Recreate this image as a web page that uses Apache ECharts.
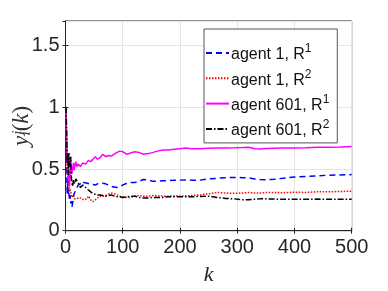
<!DOCTYPE html>
<html>
<head>
<meta charset="utf-8">
<script src="https://cdn.jsdelivr.net/npm/echarts@6/dist/echarts.min.js"></script>
<style>html,body{margin:0;padding:0;background:#fff}#c{width:388px;height:291px}</style>
</head>
<body>
<div id="c"></div>
<script>
var K = [1,2,3,4,5,6,7,8,9,10,11,12,13,14,15,16,18,20,22,24,26,28,30,32,35,38,40,44,48,52,56,60,65,70,75,80,85,90,95,100,107,114,121,128,136,145,153,160,170,180,190,200,210,220,235,250,265,280,295,310,320,330,340,350,365,380,400,420,440,460,480,500];
var agent1R1 = [1.0,0.50,0.30,0.42,0.28,0.30,0.25,0.29,0.22,0.24,0.19,0.21,0.24,0.27,0.30,0.31,0.33,0.35,0.37,0.38,0.38,0.40,0.40,0.39,0.39,0.385,0.38,0.375,0.375,0.37,0.38,0.385,0.385,0.38,0.37,0.36,0.355,0.35,0.36,0.37,0.385,0.39,0.39,0.40,0.415,0.41,0.40,0.402,0.405,0.405,0.41,0.41,0.412,0.41,0.41,0.42,0.425,0.43,0.432,0.43,0.428,0.42,0.415,0.412,0.418,0.425,0.435,0.44,0.445,0.45,0.452,0.455];
var agent1R2 = [1.0,0.62,0.45,0.50,0.36,0.40,0.30,0.34,0.35,0.30,0.27,0.29,0.30,0.28,0.26,0.27,0.27,0.26,0.25,0.27,0.265,0.26,0.255,0.25,0.245,0.26,0.28,0.25,0.235,0.25,0.265,0.28,0.28,0.285,0.295,0.305,0.30,0.29,0.28,0.275,0.27,0.27,0.28,0.285,0.28,0.28,0.285,0.282,0.28,0.28,0.282,0.28,0.283,0.285,0.29,0.30,0.31,0.305,0.303,0.306,0.31,0.305,0.305,0.31,0.31,0.308,0.312,0.31,0.315,0.315,0.318,0.32];
var agent601R1 = [1.0,0.72,0.55,0.62,0.40,0.50,0.36,0.44,0.60,0.50,0.46,0.47,0.52,0.55,0.49,0.50,0.56,0.52,0.54,0.55,0.52,0.53,0.55,0.56,0.54,0.55,0.57,0.56,0.58,0.60,0.58,0.59,0.62,0.60,0.61,0.605,0.62,0.635,0.645,0.64,0.62,0.63,0.64,0.635,0.62,0.625,0.635,0.645,0.655,0.655,0.66,0.665,0.67,0.665,0.665,0.668,0.67,0.671,0.672,0.674,0.677,0.664,0.663,0.666,0.668,0.670,0.671,0.673,0.676,0.677,0.679,0.682];
var agent601R2 = [1.0,0.80,0.55,0.62,0.45,0.63,0.55,0.52,0.60,0.45,0.39,0.36,0.38,0.41,0.40,0.38,0.42,0.41,0.39,0.37,0.35,0.36,0.37,0.36,0.35,0.34,0.33,0.315,0.30,0.295,0.29,0.29,0.285,0.28,0.285,0.29,0.28,0.275,0.275,0.27,0.275,0.28,0.28,0.27,0.265,0.265,0.27,0.27,0.27,0.275,0.275,0.275,0.275,0.275,0.278,0.28,0.27,0.262,0.258,0.25,0.25,0.255,0.258,0.258,0.256,0.255,0.255,0.255,0.256,0.255,0.255,0.255];
var xTicks = [0,100,200,300,400,500];
var yTicks = [0,0.5,1,1.5];

function pairs(ys){ return K.map(function(k,i){ return [k, ys[i]]; }); }

var chart = echarts.init(document.getElementById('c'), null, {renderer:'canvas'});
var axisColor = '#262626';
var sans = 'Liberation Sans, Arial, Helvetica, sans-serif';
function sup(base, s){ return '{a|' + base + '}{s|' + s + '}'; }
var legendNames = ['agent 1, R^1','agent 1, R^2','agent 601, R^1','agent 601, R^2'];

function mkSeries(name, ys, color, type){
  return {name:name, type:'line', data:pairs(ys), showSymbol:false, symbol:'none',
    lineStyle:{color:color, width:1.5, type:type}, itemStyle:{color:color}, animation:false, z:3};
}

chart.setOption({
  animation:false,
  grid:{left:65.5, right:36.3, top:21, bottom:60.3, containLabel:false, outerBoundsMode:'none',
    show:true, borderColor:axisColor, borderWidth:1, backgroundColor:'#fff'},
  xAxis:[{type:'value', min:0, max:500, interval:100,
    axisLine:{show:true, onZero:false, lineStyle:{color:axisColor}},
    axisTick:{show:true, inside:true, length:3, lineStyle:{color:axisColor}},
    axisLabel:{color:axisColor, fontSize:20, fontFamily:sans, margin:7},
    splitLine:{show:true, lineStyle:{color:'#e5e5e5', width:1}},
    name:'k', nameLocation:'middle', nameGap:34,
    nameTextStyle:{fontFamily:'Liberation Serif, DejaVu Serif, serif', fontStyle:'italic', fontSize:22, color:axisColor}
  },{type:'value', min:0, max:500, interval:100, position:'top',
    axisLine:{show:true, lineStyle:{color:axisColor}},
    axisTick:{show:true, inside:true, length:3, lineStyle:{color:axisColor}},
    axisLabel:{show:false}, splitLine:{show:false}}],
  yAxis:[{type:'value', min:0, max:1.7, interval:0.5,
    axisLine:{show:true, onZero:false, lineStyle:{color:axisColor}},
    axisTick:{show:true, inside:true, length:3, lineStyle:{color:axisColor}},
    axisLabel:{color:axisColor, fontSize:20, fontFamily:sans, margin:6, showMaxLabel:false,
      formatter:function(v){ return yTicks.indexOf(v) >= 0 ? String(v) : ''; }},
    splitLine:{show:true, lineStyle:{color:'#e5e5e5', width:1}},
    name:'{y|y}{s|j}{i|i}{p|(}{k|k}{p|)}', nameLocation:'middle', nameGap:32, nameRotate:90,
    nameMoveOverlap:false,
    nameTextStyle:{color:axisColor, rich:{
      y:{fontFamily:'Liberation Serif, serif', fontStyle:'italic', fontSize:23, color:'#333'},
      s:{fontFamily:'Liberation Serif, serif', fontStyle:'italic', fontSize:15, color:'#333', verticalAlign:'top', padding:[0,0,0,1]},
      i:{fontFamily:'Liberation Serif, serif', fontStyle:'italic', fontSize:15, color:'#333', verticalAlign:'bottom', padding:[0,0,0,-5]},
      p:{fontFamily:'Liberation Serif, serif', fontSize:23, color:'#333'},
      k:{fontFamily:'Liberation Serif, serif', fontStyle:'italic', fontSize:23, color:'#333'}
    }}
  },{type:'value', min:0, max:1.7, interval:0.5, position:'right',
    axisLine:{show:true, lineStyle:{color:axisColor}},
    axisTick:{show:true, inside:true, length:3, lineStyle:{color:axisColor}},
    axisLabel:{show:false}, splitLine:{show:false}}],
  legend:{orient:'vertical', left:204, top:29, width:138,
    itemWidth:23, itemHeight:14, itemGap:5.3,
    padding:[14,8,4,1],
    backgroundColor:'#fff', borderColor:'#555', borderWidth:1, borderRadius:0,
    itemStyle:{opacity:0},
    data:legendNames,
    formatter:function(n){ var p = n.split('^'); return sup(p[0], p[1]); },
    textStyle:{color:'#111', fontFamily:sans, fontSize:16, padding:[0,0,0,-3], rich:{
      a:{fontFamily:sans, fontSize:16, color:'#111', lineHeight:20, verticalAlign:'bottom'},
      s:{fontFamily:sans, fontSize:12, color:'#111', lineHeight:12, verticalAlign:'top'}
    }}
  },
  series:[
    mkSeries(legendNames[0], agent1R1, '#0000ff', [6,4]),
    mkSeries(legendNames[1], agent1R2, '#ff0000', [1.5,1.5]),
    mkSeries(legendNames[2], agent601R1, '#ff00ff', 'solid'),
    mkSeries(legendNames[3], agent601R2, '#000000', [6,2,1.5,2])
  ]
});
</script>
</body>
</html>
